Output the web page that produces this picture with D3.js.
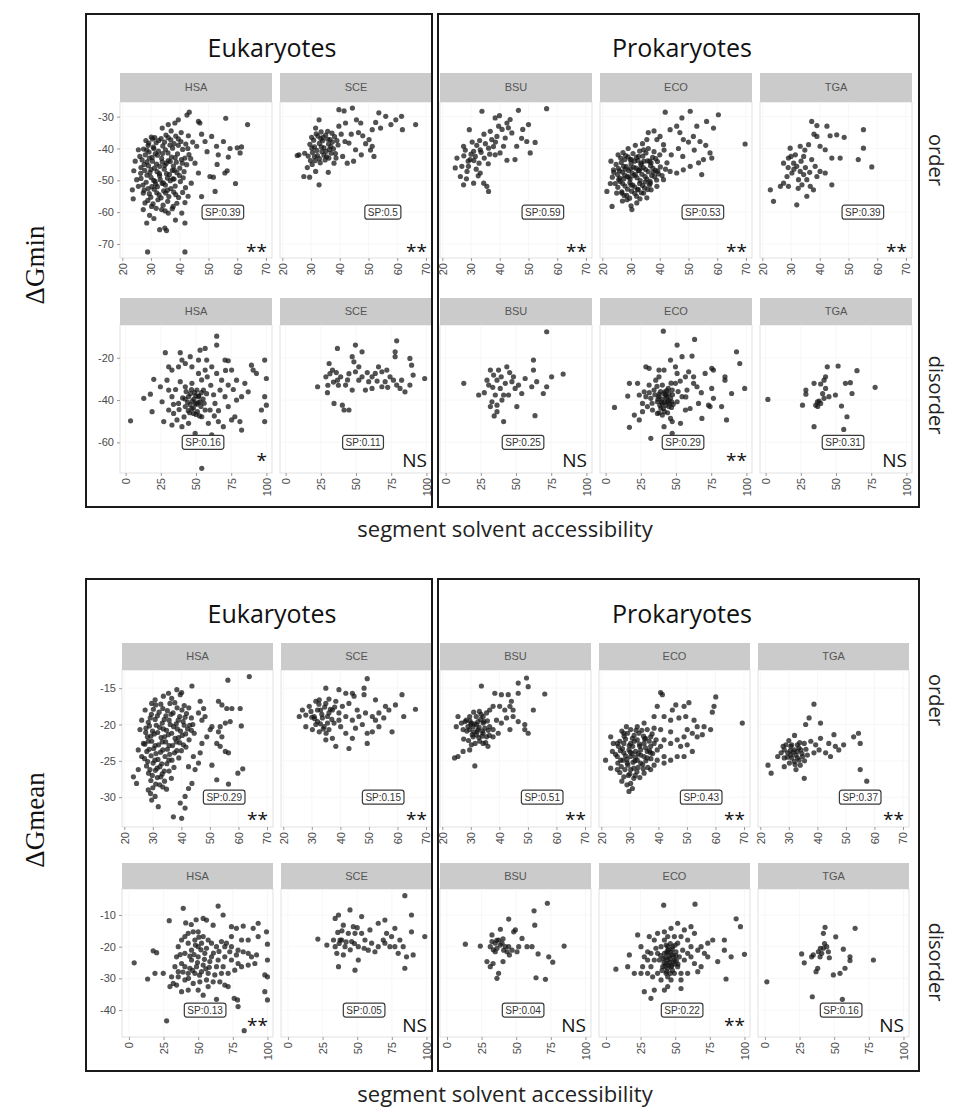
<!DOCTYPE html>
<html>
<head>
<meta charset="utf-8">
<script src="https://cdn.jsdelivr.net/npm/d3@7"></script>
<style>
  body { margin: 0; background: #fff; }
  svg { display: block; }
  .tick text { font-family: "Liberation Sans", Arial, sans-serif; font-size: 11px; fill: #4a4a4a; }
  .tick line { stroke: #9a9a9a; }
  .strip-lab { font-family: "Liberation Sans", Arial, sans-serif; font-size: 11px; fill: #555; }
  .sp-lab { font-family: "Liberation Sans", Arial, sans-serif; font-size: 10px; fill: #333; }
  .big { font-family: "Open Sans", sans-serif; fill: #111; }
  .serif { font-family: "Liberation Serif", "Times New Roman", serif; fill: #111; }
</style>
</head>
<body>
<div id="chart"></div>
<script>
var species = ["HSA", "SCE", "BSU", "ECO", "TGA"];

var xTicksOrder = [20, 30, 40, 50, 60, 70];
var xTicksDisorder = [0, 25, 50, 75, 100];
var yTicksMinOrder = [-70, -60, -50, -40, -30];
var yTicksMinDisorder = [-60, -40, -20];
var yTicksMeanOrder = [-30, -25, -20, -15];
var yTicksMeanDisorder = [-40, -30, -20, -10];

var spMinOrder = [0.39, 0.5, 0.59, 0.53, 0.39];
var spMinDisorder = [0.16, 0.11, 0.25, 0.29, 0.31];
var spMeanOrder = [0.29, 0.15, 0.51, 0.43, 0.37];
var spMeanDisorder = [0.13, 0.05, 0.04, 0.22, 0.16];

var sigMinOrder = ["**", "**", "**", "**", "**"];
var sigMinDisorder = ["*", "NS", "NS", "**", "NS"];
var sigMeanOrder = ["**", "**", "**", "**", "**"];
var sigMeanDisorder = ["**", "NS", "NS", "**", "NS"];

// ---- ΔGmin, order (x = segment solvent accessibility, y = ΔGmin)
var minOrderHSA = [[28.8,-72.5],[41.8,-72.5],[63.6,-32.5],[56,-30.5],[43.3,-28.6],[42.5,-29.5],[59.4,-51],[23.8,-55.8],[28.5,-63.4],[33,-65.5],[35.4,-65.8],[34.8,-65],[41.8,-63.4],[40.7,-60.3],[27.3,-59.2],[47.6,-55.1],[52.3,-53.5],[50.5,-48.8],[51.7,-49],[55.7,-47.7],[56.5,-47],[61,-41.4],[61.5,-39.5],[60,-39.8],[56.9,-42.7],[53.4,-42],[52.8,-39.3],[55.2,-37.8],[51.1,-36.2],[47.6,-35.5],[47,-32],[46.5,-31.5],[48.8,-37.8],[45.9,-39.3],[45.3,-44.6],[46.5,-47.7],[44,-50.9],[42.9,-55],[41.8,-57],[39.5,-31],[38.3,-32],[36,-32.5],[33.9,-33.6],[25.6,-40.4],[26.1,-42.5],[25,-49.8],[25.6,-51.9],[27.3,-54],[27.9,-57.1],[30.2,-58.2],[33.7,-59.2],[36,-60.3],[37.7,-58.2],[31,-62],[29.5,-61],[38.5,-62.5],[44.5,-38],[43,-36],[49.5,-41],[53,-45],[57.5,-40],[40.5,-35],[37,-34.5],[30.5,-37],[29,-39],[24.5,-44],[24,-47],[26.5,-46],[23.5,-53],
  [28.2,-37.5],[30.1,-36.4],[31.8,-38.2],[33.5,-36.9],[35.2,-35.8],[36.9,-37.3],[38.6,-36.1],[40.4,-37.8],[42.1,-38.6],[27.4,-40.2],[29.3,-41.1],[30.8,-39.6],[32.6,-40.8],[34.1,-39.2],[35.9,-41.4],[37.5,-39.9],[39.2,-41.7],[41,-40.3],[43.2,-41.9],[26.9,-43.6],[28.6,-44.2],[30.4,-42.8],[31.9,-44.9],[33.7,-43.1],[35.3,-44.6],[37.1,-42.7],[38.8,-44.3],[40.6,-43.5],[42.4,-45.1],[27.8,-46.9],[29.6,-47.6],[31.2,-46.2],[32.9,-47.9],[34.6,-46.5],[36.4,-48.2],[38.1,-46.8],[39.9,-48.5],[41.5,-47.3],[26.5,-49.4],[28.3,-50.6],[30,-49.1],[31.6,-51.2],[33.2,-49.8],[35,-51.5],[36.7,-50.1],[38.4,-51.8],[40.2,-50.4],[42,-52.3],[27.6,-53.1],[29.4,-54.2],[31.1,-52.8],[32.8,-54.6],[34.4,-53.3],[36.2,-55.1],[37.9,-53.7],[39.6,-55.4],[28.9,-56.3],[30.7,-57.4],[32.4,-56.1],[34.2,-57.8],[35.8,-56.6],[37.4,-58.9],[39,-57.2],[30.5,-44],[32.2,-42.1],[34.8,-45.3],[36,-43.8],[33,-48.6],[35.7,-49.3],[31.4,-50.3],[29.1,-45.4],[37.8,-45.5],[34,-41.6],[36.6,-38.9],[32,-53.9],[35.1,-54],[30.3,-52],[33.9,-51],[38,-49.6],[39.5,-39],[31,-40],
  [29.2,-38.3],[32.7,-37.5],[36,-36.6],[39.5,-37],[28,-42],[31.5,-41.6],[35,-40.4],[38.4,-42.9],[41.8,-43],[29.4,-43],[33,-45.6],[36.7,-44.1],[40,-46.2],[28.6,-48.4],[32.1,-47.3],[35.4,-47.9],[39,-47.6],[27.2,-51.5],[30.9,-50],[34.3,-50.8],[37.6,-49.5],[41.2,-49.2],[29.9,-55.3],[33.5,-55.5],[36.9,-52.6],[38.6,-54.5],[31.8,-58.8],[34.9,-59.6],[27.6,-45],[30,-46.6],[33.9,-44.2],[37.4,-46.9],[40.9,-44.6],[29,-52.6],[32.2,-52],[35.7,-53.1],[26.4,-47.8],[31.3,-36.6],[34.7,-38],[38,-38.5],[42.8,-40],[43.8,-43.2],[41,-53.8],[28.5,-40.5]];
var minOrderSCE = [[39.7,-27.8],[41.5,-28.2],[44.4,-27.3],[53.6,-28.8],[56,-29.9],[59.5,-31],[61.5,-29.9],[61.8,-34.1],[66.4,-32.5],[57.8,-32.5],[54.2,-33.6],[52.5,-31.8],[51.3,-34.1],[50.2,-37.2],[51.3,-39.3],[51.9,-42.5],[50.7,-40.5],[47.3,-32],[45.8,-31],[42,-32],[39.7,-33],[32.8,-31],[31.6,-33.6],[38,-44.6],[42.6,-44.6],[41,-42.5],[45.5,-40.4],[43.2,-38.3],[30.4,-45],[28.7,-46],[31.6,-47.2],[32.8,-51.4],[27.5,-48.8],[25.8,-42],[25.2,-42.2],[48,-36],[46.5,-35],[44,-35.5],[49,-38.5],[47.5,-42],[44.8,-44],[36,-47.5],[29.5,-49],
  [30.2,-36.5],[31.8,-35.4],[33.4,-36.9],[35.1,-35.8],[36.6,-37.2],[38.2,-36.3],[29.6,-38.7],[31.2,-39.5],[32.9,-38.4],[34.5,-39.8],[36.1,-38.6],[37.8,-40.1],[39.4,-38.9],[30.5,-41.3],[32.2,-42.2],[33.8,-41],[35.4,-42.6],[37,-41.5],[38.7,-43],[31.5,-43.8],[33.2,-44.5],[34.9,-43.6],[29,-42.4],[34,-37.6],[36.4,-40.3],[40.5,-35.5],[41.8,-37.8],[27.8,-41.5],
  [30.9,-37.4],[32.4,-36.1],[34.2,-36.5],[35.8,-37.1],[37.4,-38],[30.3,-39.9],[32,-40.6],[33.6,-39.5],[35.2,-40.9],[36.9,-39.4],[38.5,-41.6],[31.2,-42.6],[32.9,-43.2],[34.5,-42.1],[36.2,-43],[29.8,-43.8],[33.5,-34.8],[35.8,-34.6],[37.3,-35.2],[39,-37.5]];
var minOrderBSU = [[33.8,-28.3],[46.5,-28],[56.3,-27.5],[39.9,-29.7],[38.4,-30.4],[43.6,-30.9],[42.5,-32],[50,-32.5],[29.4,-34.1],[39.6,-33],[36.7,-34.6],[52.3,-38.1],[49.4,-37.8],[50.6,-41.4],[45.3,-43.5],[42.5,-43.7],[38.4,-42],[36.1,-39.9],[33.2,-40.4],[30.9,-40.9],[27.4,-39.3],[25.1,-43],[24.5,-46.1],[26.3,-48.8],[27.4,-51.4],[30.9,-50.9],[34.4,-50.9],[36.1,-53.5],[35.5,-51.9],[33.2,-47.7],[29.1,-45.6],[29.7,-43.5],[31.5,-42.5],[26.8,-45.6],[28.6,-47.2],[37.2,-37.2],[39,-36.2],[41.9,-36.7],[44.2,-35.1],[41.3,-39.3],[40.1,-41.4],[45.9,-39.3],
  [28,-40.5],[30,-41.8],[32,-39],[33.5,-41.2],[35,-38.5],[36.5,-41.8],[31,-43.8],[32.8,-44.6],[34.6,-43],[29,-44],[27.5,-42.3],[33,-37.5],[37.8,-39.4],[30.4,-38],[36,-44.8],[38.5,-38],[40.8,-34],[43,-33.5],[34.5,-35.5],[31.8,-46.5],[28.4,-49.5],[32.5,-48.6],[47.6,-36.8],[48,-34]];
var minOrderECO = [[60.4,-29.4],[69.7,-38.6],[50.6,-28.3],[41.9,-28.6],[58.7,-33.6],[56.3,-31.5],[52.9,-33],[47.7,-30.4],[45.9,-33],[43.6,-34.1],[40.1,-36.2],[39,-37.2],[41.3,-38.8],[48.2,-37.2],[51.7,-36.2],[54,-37.8],[57.5,-41.4],[58.1,-43],[55.2,-43.5],[54.6,-48.2],[50.6,-45.6],[48.2,-46.7],[45.9,-47.7],[43.6,-47.2],[41.3,-49.8],[39,-51.9],[36.7,-50.9],[34.4,-54],[32,-57.1],[30.3,-59.2],[23.4,-58.2],[21.6,-53.5],[23.9,-46.7],[25.7,-49.8],[28.6,-56.1],[26.8,-54],[35.5,-37.2],[34.4,-40.4],[32.6,-42.5],[29.7,-43.5],[46.5,-40],[48,-42.5],[52,-40.5],[50,-38],[44,-42],[42.5,-44.5],[47,-35],[53.5,-44.5],[38,-34.5],[36,-35],[56,-39],
  [25.5,-42],[27.2,-41.3],[29,-42.6],[30.7,-41.6],[32.4,-43.8],[34.1,-42.4],[35.8,-43.9],[37.5,-42.8],[39.2,-44.1],[24.8,-45],[26.6,-44.4],[28.3,-45.7],[30,-44.8],[31.7,-46.2],[33.4,-45.1],[35.1,-46.6],[36.8,-45.4],[38.5,-46.9],[40.2,-45.8],[25.3,-48.2],[27,-47.4],[28.7,-48.8],[30.4,-47.7],[32.1,-49.2],[33.8,-48.1],[35.5,-49.6],[37.2,-48.5],[38.9,-49.9],[24.5,-51],[26.2,-50.4],[27.9,-51.8],[29.6,-50.7],[31.3,-52.1],[33,-51],[34.7,-52.4],[36.4,-51.5],[26.8,-53.6],[28.5,-54.7],[30.2,-53.4],[31.9,-55],[33.6,-53.9],[29,-40],[31.5,-39],[33,-40.8],[27.8,-43.5],[29.8,-46.3],[31,-48.5],[32.8,-47],[34.5,-44],[27.5,-49.5],[30,-51.5],[28,-46.5],[26,-47],[35,-50.5],[32.5,-52.8],[36.5,-44],[37.8,-47.5],[31.2,-44],[29.3,-49],[33.2,-46.4],[34,-38.5],[36,-40],[38,-41],[40,-42],[41.5,-40.5],[42,-46.5],[39.5,-48],[37,-53],[35.5,-55.5],[27,-56.5],[25,-54],[23.5,-49],[23,-44],
  [26.4,-43],[28.1,-42.2],[30.1,-43.5],[31.9,-42.8],[33.6,-44.6],[35.2,-41.4],[37,-44.5],[38.6,-43.2],[25.6,-46.3],[27.4,-45.6],[29.2,-47],[30.9,-45.9],[32.5,-46.9],[34.3,-46],[36,-47.3],[37.6,-46.2],[39.3,-47.1],[26.1,-49.3],[27.8,-48.4],[29.7,-49.6],[31.5,-48.2],[33.2,-50.1],[34.9,-48.8],[36.6,-50.3],[38.2,-48.9],[25.4,-52.2],[27.1,-51],[28.8,-52.8],[30.6,-51.5],[32.3,-53],[34,-51.6],[35.8,-52.9],[27.6,-54.8],[29.5,-55.6],[31.3,-54.1],[33.1,-55.8],[30,-58],[24,-47.5],[22.8,-51],[40.8,-48.5]];
var minOrderTGA = [[37.2,-31.5],[39,-32.8],[43.6,-36],[45.9,-35.7],[55.2,-34.1],[55.2,-39.9],[53.4,-43.5],[58.1,-45.8],[47.1,-43],[44.2,-43],[41.9,-40.4],[40.1,-39.3],[39,-36.2],[36.1,-38.8],[33.2,-39.3],[29.7,-39.9],[27.4,-44.6],[29.1,-43],[30.9,-44.6],[32,-45.6],[33.2,-47.2],[34.4,-48.2],[35.5,-49.8],[36.7,-51.9],[37.8,-53],[35.5,-55],[32,-57.7],[29.1,-51.9],[27.4,-50.9],[26.3,-51.9],[22.8,-53],[23.9,-56.6],[44.2,-51.4],[39,-48.8],[38.4,-45.6],[37.2,-43.5],[41.9,-47.7],[40.1,-47.2],[34.4,-42.5],[31.5,-42],[30.3,-47.7],[28.6,-48.8],[33.8,-51.4],[32.6,-49.8],
  [31,-46.5],[33.5,-44],[35,-46],[30,-42.5],[34.8,-40.5],[29,-46],[36.5,-47.5],[32.5,-52.5],[42.5,-33],[38,-35.5],[48.5,-36.5]];

// ---- ΔGmin, disorder
var minDisHSA = [[64.7,-9.8],[52.9,-16.4],[28.2,-17.6],[38.8,-17.6],[56.5,-15.6],[64.7,-14],[70.6,-21.1],[72.9,-21.4],[89.4,-23.5],[90.6,-25.8],[92.9,-27.4],[98.8,-21.1],[100,-29.8],[98.8,-38.4],[100,-42.4],[98.8,-50.2],[96.5,-44.7],[3.5,-49.8],[12.9,-39.2],[17.6,-37.2],[20,-30.2],[18.8,-45.5],[27.1,-50.2],[32.9,-51.8],[34.1,-46.3],[54.1,-72.3],[49.4,-55.7],[61.2,-56.5],[82.4,-54.2],[81.2,-50.2],[77.6,-47.9],[82.4,-38.4],[87.1,-36.1],[84.7,-32.1],[78.8,-30.6],[75.3,-25.8],[68.2,-30.6],[67.1,-35.3],[63.5,-41.6],[60,-44.7],[58.8,-51],[54.1,-47.9],[48.2,-46.3],[42.4,-43.1],[37.6,-41.6],[32.9,-38.4],[30.6,-35.3],[29.4,-30.6],[32.9,-25.8],[37.6,-24.3],[42.4,-22.7],[47.1,-24.3],[51.8,-27.4],[56.5,-25.8],[55.3,-35.3],[51.8,-38.4],[49.4,-41.6],[44.7,-38.4],[42.4,-33.7],[38.8,-31.3],[47.1,-32.1],[50.6,-35.3],[52.9,-40.8],[56.5,-44.7],[44.7,-51],[40,-52.6],[36.5,-49.4],[30.6,-44.7],[70.6,-38.4],[72.9,-43.1],[75.3,-49.4],[65.9,-50.2],[69.4,-52.6],[78.8,-40],[72.9,-32.9],[61.2,-24.3],[64.7,-27.4],[57.6,-21.1],[51.8,-21.1],[45.9,-19.5],[40,-21.1],[30.6,-24.3],[24.7,-33.7],[25.9,-40.8],
  [46,-37],[48.5,-39.5],[50.5,-42],[52,-38],[47,-44],[44,-41],[49,-36.5],[53.5,-43],[45.5,-46],[51,-45.5],[43,-36],[55,-39.5],[57.5,-37],[40.5,-39],[38,-44.5],[35.5,-35],[60.5,-33],[62.5,-37.5],[58,-29],[54,-30.5],[66,-45],[41.5,-48],[34,-42],[63,-47.5],[71,-26],[76.5,-35],
  [47.5,-40.5],[49.8,-38],[51.5,-41.2],[45.8,-42.2],[48.2,-43.8],[50,-46.8],[46.8,-35],[53.8,-36.5],[44.5,-45],[52.5,-47.5],[55.8,-41.5],[42.2,-39.5]];
var minDisSCE = [[49.6,-14],[78.9,-12],[36.8,-15.6],[54.3,-17.2],[47.3,-19.5],[48.5,-21.9],[30.9,-22.7],[33.3,-25.8],[36.8,-30.6],[28.6,-29],[22.7,-33.7],[29.7,-36.5],[34.4,-41.6],[40.3,-42.4],[41.5,-44.7],[45,-44.7],[52,-30.6],[49.6,-26.6],[52,-24.3],[54.3,-29],[59,-31.3],[61.4,-29],[63.7,-27.4],[68.4,-26.6],[66,-24.3],[71.9,-25.8],[74.2,-29],[76.6,-30.6],[78.9,-32.9],[82.4,-30.6],[81.3,-34.5],[77.8,-17.2],[77.8,-19.5],[88.3,-20.3],[89.5,-23.5],[90.6,-28.2],[88.3,-32.9],[84.8,-36.1],[98.8,-29.8],[56.7,-35.3],[47.3,-35.3],[42.6,-32.9],[39.1,-29],[61.4,-34.5],[68.4,-33.7],[70.7,-31.3],
  [31.5,-27.5],[34,-31.5],[37.5,-33],[30,-33],[36,-27],[45,-27.5],[44,-30.5],[58,-27],[65,-31],[72.5,-34]];
var minDisBSU = [[71.8,-7.7],[12.9,-32.1],[23.5,-37.6],[30.6,-32.9],[31.8,-25.8],[37.6,-25.8],[43.5,-24.3],[48.2,-29],[42.4,-32.1],[36.5,-30.6],[38.8,-34.5],[41.2,-37.6],[44.7,-37.6],[51.8,-32.9],[56.5,-29.8],[61.2,-33.7],[62.4,-25.8],[62.4,-21.1],[64.7,-31.3],[71.8,-33.7],[69.4,-36.9],[75.3,-29],[83.5,-27.7],[50.6,-43.1],[36.5,-42.4],[31.8,-43.1],[36.5,-45.5],[41.2,-50.2],[63.5,-47.4],[32.9,-40.8],[35.3,-37.6],[29.4,-30.6],[34.1,-28.2],[49.4,-34.5],[54.1,-36.9],[47.1,-31.3],
  [33.5,-34],[39.5,-29],[45.5,-27],[27.5,-36.5],[40,-40],[34.5,-47.5]];
var minDisECO = [[41,-7.4],[63.2,-11.3],[50.8,-14],[54.3,-19.5],[61.4,-19.2],[46.1,-21.1],[93,-17.2],[95.3,-22.7],[98.8,-34.5],[89.5,-36.9],[84.8,-29],[84.8,-30.6],[76.6,-25.8],[75.4,-25],[70.7,-27.4],[75.4,-34.5],[76.6,-39.2],[73.1,-42.4],[66,-41.6],[64.9,-33.7],[74.2,-43.1],[82.4,-43.1],[85.9,-49.4],[68.4,-48.7],[56.7,-44.7],[53.2,-51],[47.3,-50.2],[46.1,-48.7],[41.5,-52.6],[32.1,-58.1],[47.3,-55.7],[16.9,-52.9],[6.3,-43.5],[15.7,-38.1],[16.9,-32.1],[22.7,-32.1],[28.6,-24.3],[30.9,-25],[37.9,-25.8],[41.5,-25.8],[49.6,-24.3],[50.8,-27.4],[56.7,-29],[59,-26.6],[62.5,-29],[62.5,-32.1],[57.8,-35.3],[54.3,-38.4],[50.8,-40.8],[45,-43.1],[40.3,-41.6],[37.9,-38.4],[34.4,-35.3],[30.9,-32.9],[27.4,-36.1],[23.9,-37.6],[26.2,-41.6],[29.7,-43.1],[33.3,-44.7],[36.8,-46.3],[40.3,-47.1],[43.8,-40.8],[47.3,-35.3],[49.6,-32.1],[40.3,-32.9],[37.9,-29],[35.6,-30.6],[42.6,-37.6],[46.1,-39.2],[42,-36.1],[36.8,-40.8],[32.1,-39.2],[28.6,-38.4],[26.2,-45.5],[20.4,-47.1],[23.9,-49.4],
  [43,-39],[45.5,-41.5],[41,-44],[39,-36],[44.5,-34.5],[47.5,-37.5],[38.5,-42.5],[35,-37.5],[42,-41],[48,-42],[44,-46],[40,-39.5],[36.5,-33.5],[33,-41.5],[46.5,-32],[51.5,-36],[53,-31],[38,-46],[31,-36.5],[57,-38.5],[60,-44],[68,-36.5],
  [41.5,-37],[43.5,-38.2],[45,-37],[39.8,-41],[42.8,-42.5],[44.8,-40.3],[46.8,-43.5],[37.2,-39.6],[39.2,-43.8],[41.8,-45.5],[47,-40.8],[43.5,-35.5],[38,-37.2]];
var minDisTGA = [[1.6,-39.7],[43.8,-24.3],[51.5,-23.9],[64.9,-26.1],[77.8,-34],[34.4,-32.1],[28.6,-35.3],[28.6,-37.2],[39.1,-32.4],[41.5,-30.6],[42.6,-34.5],[45,-38.4],[41.5,-39.2],[39.1,-41.6],[35.6,-42.4],[26.2,-42.4],[36.8,-40.8],[42.6,-29],[56.7,-32.1],[60.2,-31.8],[49.6,-37.6],[61.4,-36.9],[53.9,-42.8],[57.8,-47.9],[34.4,-52.6],[55.5,-53.9],[38,-40.5],[40.5,-37],[37,-43]];

// ---- ΔGmean, order
var meanOrderHSA = [[63.8,-13.4],[56.3,-13.9],[43.7,-14.7],[40.1,-15.6],[39.6,-15.9],[36.6,-16.4],[46.6,-16.8],[47.8,-17.8],[53,-16.8],[54.2,-17.3],[55.9,-17.8],[57.7,-17.8],[60.6,-17.8],[57.1,-19.6],[61,-20.2],[55.4,-19.8],[53.6,-20.3],[53,-21],[50.7,-20.3],[50.1,-20.7],[54.2,-21.7],[52.4,-22.6],[53.6,-23],[55.4,-23.7],[56.5,-23.9],[50.7,-25.6],[52.4,-27.6],[56.5,-28.2],[59.8,-26.7],[61.5,-26.1],[46,-25.3],[44.8,-26.2],[43.7,-28.1],[42.5,-28.8],[41.3,-29.9],[39.6,-30.8],[41.3,-31.5],[40.1,-32.9],[37.2,-32.7],[31.9,-31.3],[30.8,-29.9],[29.6,-30.4],[28.4,-29],[24.3,-28.1],[24.9,-26.2],[26.1,-24.4],[26.7,-22.6],[25.5,-20.7],[26.1,-19.4],[27.3,-18],[29.6,-17.1],[30.8,-16.6],[33.7,-16.1],[35.5,-15.7],[38.4,-15.2],[47.2,-19.4],[48.3,-18.9],[46,-18.4],[48.9,-21.7],[47.2,-22.6],[46.6,-23.9],[44.2,-24.4],[42.5,-25.8],[23.2,-27.2],[24.9,-23.5],
  [31,-17.3],[33.5,-17.8],[36,-17.1],[38.5,-17.7],[41,-17.4],[29.5,-18.6],[32.2,-18.3],[34.6,-18.8],[37.1,-18.4],[39.4,-18.9],[41.8,-18.5],[43.5,-19.1],[28.4,-19.7],[30.8,-19.3],[33.3,-19.8],[35.7,-19.4],[38.2,-19.9],[40.6,-19.6],[42.9,-20.1],[27.6,-20.5],[29.9,-20.9],[32.4,-20.4],[34.8,-20.8],[37.3,-20.3],[39.7,-20.9],[42.2,-20.6],[44.5,-21.2],[28.1,-21.7],[30.5,-21.3],[32.9,-21.8],[35.4,-21.4],[37.8,-21.9],[40.3,-21.5],[42.7,-22.1],[27.2,-22.7],[29.6,-22.3],[32,-22.8],[34.5,-22.4],[36.9,-22.9],[39.4,-22.5],[41.6,-23.1],[27.9,-23.7],[30.3,-23.3],[32.7,-23.8],[35.1,-23.4],[37.6,-23.9],[40,-23.6],[27.1,-24.7],[29.4,-24.3],[31.8,-24.8],[34.3,-24.4],[36.7,-24.9],[39.1,-24.6],[27.8,-25.7],[30.1,-25.3],[32.5,-25.8],[34.9,-25.4],[37.4,-25.9],[28.5,-26.7],[30.9,-26.3],[33.3,-26.8],[35.7,-26.4],[29.3,-27.7],[31.6,-27.3],[34.1,-27.8],[36.5,-27.4],[30,-28.7],[32.4,-28.3],[34.8,-28.9],
  [30.2,-17.9],[32.8,-17.2],[35.1,-18.1],[37.7,-17],[40.2,-18],[42.6,-17.7],[29.1,-19.1],[31.6,-18.8],[34,-19.3],[36.4,-18.6],[38.9,-19.4],[41.3,-19],[44,-20],[28.8,-20.2],[31.2,-20.1],[33.7,-20.6],[36.1,-20],[38.6,-20.6],[41,-20.1],[43.5,-20.8],[27.5,-21.1],[29.3,-21.6],[31.7,-21.1],[34.1,-21.7],[36.6,-21.2],[39,-21.8],[41.5,-21.3],[28.4,-22.3],[30.8,-22.9],[33.3,-22.4],[35.7,-22.9],[38.2,-22.4],[40.7,-22.8],[28.7,-23.4],[31.1,-24],[33.5,-23.5],[35.9,-24.1],[38.4,-23.6],[28.2,-25.1],[30.7,-24.9],[33.1,-25.4],[35.6,-24.9],[29,-26.2],[31.5,-26],[34,-26.4],[29.8,-27],[32.8,-27.2],[31,-28.2],[33.5,-28.6],[29.2,-29.5]];
var meanOrderSCE = [[49.4,-13.7],[34.9,-15],[39.5,-15.2],[41.9,-15.7],[44.2,-15.7],[44.8,-16.1],[48.3,-15],[48.3,-15.9],[52.3,-16.6],[55.8,-17.5],[61.6,-15.9],[66.3,-17.9],[59.3,-17.3],[57,-18],[62.2,-18.9],[58.1,-21],[53.5,-20.3],[51.2,-21],[49.4,-21.2],[49.4,-22.6],[44.2,-21.9],[43,-23.3],[38.4,-23],[37.2,-21.9],[34.9,-22.1],[32.6,-21],[30.2,-20.7],[27.9,-20.3],[25.6,-18.9],[26.7,-18],[29.1,-17.5],[31.4,-16.8],[32.6,-16.6],[34.9,-17.1],[37.2,-18],[39.5,-18.4],[41.9,-18.9],[44.2,-19.4],[46.5,-18.9],[48.8,-18.4],[51.2,-18.9],[53.5,-18.4],[40.7,-17.5],[38.4,-16.8],[36,-18.4],[33.7,-19.1],[32,-19.6],[30.8,-18.9],[33.1,-18],[35.5,-19.8],[37.8,-19.8],[40.1,-20.3],[41.9,-21.2],[45.3,-20.5],[47.7,-20],[52.3,-19.4],[55.2,-19.1],[29.7,-18.2],[27.9,-18.7],[31.4,-20],[34.3,-20.3],[36,-20.7],[39.5,-19.4],[45.9,-18],[43,-17.1],
  [32,-18],[33.5,-18.6],[34.5,-17.6],[31,-19.2],[33,-19.9],[35.5,-18.9],[36.5,-17.9],[32.5,-17.2],[34,-20.6],[30,-19],[35,-21.2],[37,-19.3],[36,-16.5],[38,-17.6]];
var meanOrderBSU = [[49.5,-13.6],[50.1,-14.8],[46.6,-14.3],[55.9,-15.8],[33.7,-14.7],[38.4,-15.7],[40.7,-15.9],[43.1,-15.9],[46.6,-15.7],[44.2,-16.8],[43.7,-17.5],[44.8,-18],[41.9,-18],[40.1,-17.5],[37.8,-17.5],[36.6,-18],[35.5,-18.4],[34.3,-18.9],[31.9,-18.9],[29.6,-18.9],[28.4,-19.4],[26.7,-19.8],[25.5,-18.9],[24.9,-20.3],[27.3,-20.7],[29.6,-20.7],[30.8,-20.3],[32.5,-20.7],[34.3,-21.2],[35.5,-21.7],[37.8,-20.7],[39,-19.4],[40.7,-19.8],[42.5,-19.1],[44.8,-18.9],[46.6,-19.6],[48.9,-20],[48.9,-20.7],[50.1,-21.2],[51.9,-18],[43.7,-20.7],[30.8,-21.7],[33.1,-22.3],[34.3,-22.6],[30.2,-22.8],[29.6,-23.5],[27.3,-23.7],[25.5,-24.4],[24.3,-24.6],[31.4,-25.7],[36,-23],[37.8,-21.7],[39.6,-21.2],[36.6,-20.3],[34.3,-19.8],[32.5,-19.6],[30.2,-19.8],[29,-20.3],[31.9,-21.4],[34.9,-20.5],
  [32,-20],[33.5,-19.3],[31,-21],[34,-20.9],[32.8,-21.8],[30,-20],[35.8,-19.5],[36.5,-21.5],[33,-18.2],
  [28,-19.6],[29.7,-19.5],[31.3,-19.9],[32.9,-20.4],[34.6,-19.6],[36.1,-20.8],[28.6,-20.9],[30.5,-21.4],[32.2,-21],[33.9,-21.6],[35.2,-22.5],[27.5,-22],[29.2,-22.2],[31.5,-22.6],[33.6,-18.6],[31,-18.3]];
var meanOrderECO = [[40.8,-15.6],[41.4,-15.9],[60.1,-16.2],[59.5,-17.5],[58.9,-18.3],[69.4,-19.8],[50.7,-17],[49,-17.5],[46.1,-17.3],[44.9,-18],[39.6,-17.5],[38.5,-18.9],[42,-18.9],[44.3,-19.4],[47.2,-19.1],[49.6,-18.9],[52.5,-19.4],[53.6,-20.3],[56,-20.3],[58.3,-20.7],[55.4,-21.4],[53.6,-21.7],[51.9,-21.2],[50.1,-20.7],[49,-21.7],[46.6,-22.1],[44.3,-22.6],[42,-22.1],[40.8,-20.7],[44.3,-21],[47.8,-23],[50.1,-22.8],[51.9,-23.7],[49,-24.4],[46.6,-24.4],[44.3,-24.9],[42,-24.4],[39.6,-24.9],[37.3,-26.2],[35,-26.7],[31.4,-27.4],[29.7,-29.2],[30.3,-28.1],[27.9,-27.2],[25.6,-26.2],[23.3,-26],[21.5,-24.9],[23.9,-23.7],[25.6,-22.6],[23.3,-21.7],[27.9,-21.2],[30.3,-20.7],[32.6,-20.3],[35,-19.8],[36.1,-20.7],[37.3,-21.7],[38.5,-22.6],[39.6,-23.5],[37.3,-23.9],[35,-24.4],[32.6,-24.9],[30.3,-24.4],[27.9,-23.9],[26.8,-24.9],[29.1,-25.3],[31.4,-26],[33.8,-25.3],[36.1,-24.6],[30.3,-22.6],[32.6,-22.1],[35,-22.6],[37.3,-23],[27.9,-22.6],[25.6,-24.4],[30.3,-26.2],[33.8,-23.5],[32,-23.7],[36.1,-23.7],[30.9,-21.9],[33.2,-21.2],[35.5,-21.9],[38.5,-20.5],[40.8,-23],[42,-25.3],[27.4,-23.3],[29.7,-23.5],
  [28.5,-22],[31,-23],[33,-24],[29,-24.8],[31.8,-25],[34.5,-25.5],[27,-25.8],[29.5,-27],[32.5,-26.5],[26,-23],[34.2,-20.8],[36.8,-22.3],[38,-24],[31.5,-21.5],[28.8,-20.3],[33.5,-23],[30.8,-24],[35.5,-23.2],
  [26.5,-22.3],[28,-21.6],[29.8,-22.9],[31.6,-22.3],[33.4,-22.7],[35.2,-22],[36.9,-23.6],[25,-24.1],[26.7,-23.6],[28.5,-24.3],[30.2,-23.8],[32,-24.5],[33.8,-24.2],[35.6,-25],[37.4,-24.7],[25.8,-25.3],[27.6,-24.9],[29.3,-25.6],[31.1,-25.2],[32.9,-25.9],[34.7,-26.1],[26.5,-26.6],[28.3,-26.2],[30,-26.8],[31.9,-27],[33.5,-27.3],[27.2,-27.8],[29,-28.3],[30.9,-28.8],[24.2,-22.6],[27.2,-20.9],[29.2,-21.2],[32.2,-20.8],[34.8,-21.6],[37.8,-21.3],[39.2,-22.1],[36.3,-25.9],[38.5,-25.6]];
var meanOrderTGA = [[38.8,-17.2],[37.1,-19.1],[35.9,-20],[41.1,-19.8],[45.8,-21.4],[49.2,-22.8],[52.7,-21.7],[54.4,-21.2],[55,-22.6],[55,-26.2],[57.3,-27.8],[44,-22.6],[41.1,-21.9],[39.4,-22.8],[37.7,-22.3],[35.4,-22.6],[33,-22.8],[30.7,-23],[28.4,-23.5],[27.3,-23.9],[26.1,-24.4],[28.4,-24.6],[30.2,-25.3],[31.9,-25.1],[33.6,-24.9],[34.8,-24.4],[36.5,-24.2],[38.8,-23.9],[40.6,-23.5],[32.5,-26.2],[35.4,-27.4],[23.8,-26.7],[22.7,-25.6],[28.4,-25.8],[30.7,-24.2],[33,-23.7],[34.2,-23.5],[31.9,-23.5],[29.6,-23.9],[42.9,-23.9],[44.6,-24.4],[46.3,-23],[47.5,-23.5],
  [32.5,-24.2],[31,-24.6],[34,-25.6],[33.5,-23.2],[30,-22.2],[36,-23.4],[29,-22.8],[32,-21.5],
  [31.5,-23.8],[33,-24.6],[30.5,-23.6],[32.2,-25.5],[34.6,-24],[29.5,-24.5],[35.5,-25],[28,-23],[31,-22.8],[33.8,-22.5]];

// ---- ΔGmean, disorder
var meanDisHSA = [[3.8,-25.1],[13.5,-30.2],[17.5,-21.3],[20,-21.9],[18.8,-28.4],[24.8,-28.4],[27.2,-43.4],[29.1,-11.8],[39.2,-7.9],[64.4,-7.2],[68,-10],[53.6,-11.1],[56,-11.6],[60.8,-13.2],[74,-13.7],[77.6,-14.2],[82.5,-13.5],[89.7,-14.2],[93.3,-12.6],[99.3,-15.3],[100,-19.2],[93.3,-16.8],[92.1,-22.6],[100,-24.2],[98.1,-28.9],[100,-29.5],[98.1,-34.2],[100,-36.8],[83.2,-46.5],[78.8,-38.9],[78.4,-36.8],[76,-36.3],[71.6,-32.6],[69.2,-32.1],[63.2,-36.6],[57.2,-32.6],[53.6,-35.3],[50,-33.7],[42.8,-33.7],[38,-34.2],[34.4,-32.1],[32,-31.6],[29.6,-32.6],[30.8,-29.5],[33.2,-26.3],[34.4,-23.2],[35.6,-20],[38,-17.9],[40.4,-16.8],[42.8,-15.8],[46.4,-15.3],[50,-15.3],[53.6,-16.8],[57.2,-17.9],[59.6,-18.9],[63.2,-20],[66.8,-18.4],[70.4,-18.9],[74,-20],[78.8,-21.1],[82.5,-21.6],[86.1,-22.1],[88.5,-23.2],[90.9,-25.3],[86.1,-25.8],[81.3,-26.3],[76.4,-27.4],[71.6,-28.4],[66.8,-28.4],[62,-28.9],[57.2,-28.4],[52.4,-27.9],[47.6,-28.4],[42.8,-28.4],[40.4,-26.3],[45.2,-24.2],[50,-23.2],[54.8,-22.1],[59.6,-23.2],[64.4,-24.2],[69.2,-23.2],[74,-24.2],[78.8,-25.3],[45.2,-21.1],[50,-20],[40.4,-22.1],[38,-25.3],[42.8,-18.9],[47.6,-17.9],[52.4,-18.9],[56,-20.5],[58.4,-24.7],[53.6,-25.8],[48.8,-26.3],[44,-26.8],[35.6,-27.9],[63.2,-26.3],[68,-26.3],[72.8,-21.6],[77.6,-22.6],[51.2,-31.1],[46.4,-31.6],[56,-30.5],[60.8,-31.1],[65.6,-31.1],[40.4,-30.5],[35.6,-29.5],[69.2,-20],[74,-16.8],[81.3,-17.9],[86.1,-17.9],
  [47,-22.5],[49.5,-25],[52,-21],[54.5,-24],[46,-27.5],[51,-29],[55.5,-27],[44,-23],[48,-19.5],[43,-30],[58,-26.5],[61,-22],[39,-28],[37,-22.5],[65,-21.5],[50.5,-17],[45,-13],[41,-12.5],[48.5,-11.5]];
var meanDisSCE = [[84.4,-3.9],[21.6,-17.6],[28.1,-19.5],[34.1,-11.1],[36.5,-10],[40,-13.2],[44.8,-8.4],[53.2,-10.5],[47.2,-13.7],[43.6,-15.8],[38.8,-17.9],[34.1,-20],[35.3,-22.1],[40,-22.6],[36.5,-26.3],[48.4,-27.4],[50.8,-24.2],[50.8,-20],[55.6,-17.9],[59.2,-14.7],[65.2,-12.6],[70,-11.6],[71.2,-15.8],[74.8,-16.8],[77.2,-14.2],[77.2,-20],[79.6,-22.1],[84.4,-26.8],[85.6,-23.2],[90.4,-22.6],[89.2,-15.3],[89.2,-10],[98.8,-16.8],[60.4,-18.9],[65.2,-20],[70,-18.9],[62.8,-21.6],[58,-21.1],[46,-18.4],[41.2,-20],[37.6,-17.9],[32.9,-17.9],[48.4,-15.8],[53.2,-15.8],[68.8,-17.9],[73.6,-20],[80.8,-17.9],[83.2,-20],
  [37,-19],[39,-15],[42,-18.5],[45,-21],[48,-19],[50,-14],[55,-20.5],[36,-15.5]];
var meanDisBSU = [[13.3,-19.2],[24.1,-19.8],[32.5,-16.3],[38.6,-14.5],[44.6,-11.3],[48.2,-15.3],[49.4,-14.7],[32.5,-18.4],[34.9,-18.9],[37.3,-17.9],[39.8,-18.9],[42.2,-20],[44.6,-20],[47,-21.1],[50.6,-21.6],[51.8,-20],[54.2,-17.4],[57.8,-20],[61.4,-20],[63.4,-13.2],[62.9,-8.7],[72.5,-6.3],[65.8,-22.3],[73.5,-23.2],[76.4,-24.9],[84.6,-19.8],[28.9,-24.7],[33.3,-25.3],[31.3,-26.3],[37.3,-28.4],[36.1,-30],[40.5,-24.7],[45.1,-22.6],[64.3,-29.8],[71.1,-30.3],[43.4,-21.6],[41,-21.1],[36.1,-20.5],[31.3,-20],[34.9,-21.6],
  [38.5,-19.5],[36,-18],[40.5,-17.5],[33.5,-21]];
var meanDisECO = [[41.7,-6.9],[64.3,-6.6],[94,-11.2],[97.1,-13.7],[100,-22.4],[86.7,-30.2],[85.5,-17.9],[85.5,-21.1],[90.4,-23.2],[80.7,-24.7],[77.1,-17.9],[73.5,-18.9],[73.5,-23.2],[68.7,-26.3],[66.3,-27.9],[61.4,-23.2],[61.4,-20],[63.9,-15.8],[61.4,-13.7],[56.6,-14.7],[51.8,-12.6],[47,-14.2],[44.6,-16.8],[37.3,-15.8],[34.9,-17.9],[31.3,-16.8],[22.9,-16.3],[16.9,-22.6],[15.7,-26.3],[7.2,-27.1],[20.5,-28.4],[25.3,-28.4],[26.5,-26.3],[30.1,-24.2],[32.5,-22.1],[36.1,-20.5],[39.8,-20],[42.2,-22.1],[44.6,-24.2],[47,-26.3],[49.4,-28.4],[47,-30.5],[44.6,-32.6],[54.2,-33.2],[34.9,-33.7],[32.5,-36.3],[27.7,-34.2],[42.2,-33.7],[54.2,-30.5],[59,-28.4],[63.9,-25.3],[59,-22.1],[55.4,-21.1],[51.8,-18.9],[48.2,-20],[44.6,-20],[42.2,-17.9],[37.3,-22.1],[34.9,-24.2],[32.5,-26.3],[30.1,-28.4],[37.3,-28.4],[41,-26.3],[43.4,-28.4],[49.4,-24.2],[53,-23.2],[56.6,-24.2],[51.8,-26.3],[54.2,-28.4],[38.6,-24.2],[33.7,-29.5],[44.6,-29.5],[50.6,-21.6],[47,-21.6],[43.4,-25.3],[39.8,-30.5],[30.1,-21.6],[25.3,-20],[27.7,-23.2],[59,-17.9],[66.3,-21.1],[68.7,-20],[71.1,-22.1],[42.2,-15.3],[49.4,-16.8],[54.2,-16.8],
  [45.5,-23],[47.5,-22.5],[43,-23.5],[46,-25],[48.5,-24.8],[44.5,-26.8],[50.5,-22.8],[42,-25],[39.5,-22.8],[48,-27.5],[45,-21],[52,-25.5],[40.5,-27.5],[46.5,-19],[50,-19.5],[43.5,-19.5],
  [44,-22],[46.2,-23.8],[48.8,-23],[45.2,-25.8],[42.8,-26.2],[47.5,-26],[49.8,-25.5],[44.2,-21.5],[41.5,-23.8],[47.8,-20.8],[50.8,-24.4],[43.8,-27.8],[46.5,-28.4]];
var meanDisTGA = [[1.4,-31.1],[43.4,-13.9],[42.2,-15.8],[51.1,-16.9],[65.1,-14.2],[26.5,-22.3],[28.4,-25.1],[34.9,-22.6],[38.6,-21.6],[41,-22.1],[42.2,-20.5],[44.6,-20],[45.8,-21.6],[56.6,-20.8],[61.4,-23.2],[61.4,-24.4],[57.8,-26.8],[54.2,-28.4],[49.4,-28.9],[38.1,-26.8],[36.9,-27.9],[78.3,-24.2],[34.2,-35.8],[55.9,-36.6],[33.7,-23.2],[39.8,-23.2],[43,-19],[40,-20.5],[46.5,-23.5]];

// ---------------------------------------------------------------
var svg = d3.select("#chart").append("svg")
  .attr("width", 957)
  .attr("height", 1115);

var figures = [
  { top: 14, bottom: 507, titleY: 57, x0: 120, step: 160, pw: 152,
    leftLabel: "\u0394Gmin", leftY: 265, axisTitleY: 537,
    rows: [
      { strip: 73, y0: 102, y1: 258, xDomain: [19.2, 72.1], xTicks: xTicksOrder,
        yDomain: [-74.4, -25.4], yTicks: yTicksMinOrder,
        data: [minOrderHSA, minOrderSCE, minOrderBSU, minOrderECO, minOrderTGA],
        sp: spMinOrder, spAt: [55, -60], sig: sigMinOrder, sigDy: 0, facet: "order", facetY: 160 },
      { strip: 298, y0: 325, y1: 473, xDomain: [-4, 104], xTicks: xTicksDisorder,
        yDomain: [-74.5, -4.5], yTicks: yTicksMinDisorder,
        data: [minDisHSA, minDisSCE, minDisBSU, minDisECO, minDisTGA],
        sp: spMinDisorder, spAt: [55, -60], sig: sigMinDisorder, sigDy: -6, facet: "disorder", facetY: 395 }
    ] },
  { top: 579, bottom: 1071, titleY: 623, x0: 122, step: 159, pw: 151,
    leftLabel: "\u0394Gmean", leftY: 820, axisTitleY: 1102,
    rows: [
      { strip: 643, y0: 670, y1: 827, xDomain: [19.2, 72.1], xTicks: xTicksOrder,
        yDomain: [-34.1, -12.5], yTicks: yTicksMeanOrder,
        data: [meanOrderHSA, meanOrderSCE, meanOrderBSU, meanOrderECO, meanOrderTGA],
        sp: spMeanOrder, spAt: [55, -30], sig: sigMeanOrder, sigDy: -1.5, facet: "order", facetY: 700 },
      { strip: 863, y0: 889, y1: 1037, xDomain: [-5, 104], xTicks: xTicksDisorder,
        yDomain: [-48.5, -1.8], yTicks: yTicksMeanDisorder,
        data: [meanDisHSA, meanDisSCE, meanDisBSU, meanDisECO, meanDisTGA],
        sp: spMeanDisorder, spAt: [55, -40], sig: sigMeanDisorder, sigDy: -5, facet: "disorder", facetY: 962 }
    ] }
];

figures.forEach(function(fig) {

  fig.rows.forEach(function(row) {
    var y = d3.scaleLinear().domain(row.yDomain).range([row.y1, row.y0]);

    species.forEach(function(name, i) {
      var left = fig.x0 + i * fig.step;
      var x = d3.scaleLinear().domain(row.xDomain).range([left, left + fig.pw]);
      var g = svg.append("g").attr("class", "panel");

      g.append("rect")
        .attr("x", left).attr("y", row.y0)
        .attr("width", fig.pw).attr("height", row.y1 - row.y0)
        .attr("fill", "#fff")
        .attr("stroke", "#dadada")
        .attr("stroke-width", 0.8);

      // faint grid
      g.selectAll(".gx").data(row.xTicks).enter().append("line")
        .attr("x1", function(d) { return x(d); }).attr("x2", function(d) { return x(d); })
        .attr("y1", row.y0).attr("y2", row.y1)
        .attr("stroke", "#f1f1f1").attr("stroke-width", 0.6);
      g.selectAll(".gy").data(row.yTicks).enter().append("line")
        .attr("x1", left).attr("x2", left + fig.pw)
        .attr("y1", function(d) { return y(d); }).attr("y2", function(d) { return y(d); })
        .attr("stroke", "#f1f1f1").attr("stroke-width", 0.6);

      // strip
      g.append("rect")
        .attr("x", left).attr("y", row.strip)
        .attr("width", fig.pw).attr("height", row.y0 - row.strip)
        .attr("fill", "#cbcbcb");
      g.append("text")
        .attr("class", "strip-lab")
        .attr("x", left + fig.pw / 2)
        .attr("y", (row.strip + row.y0) / 2)
        .attr("dy", "0.35em")
        .attr("text-anchor", "middle")
        .text(name);

      // points
      g.selectAll("circle").data(row.data[i]).enter().append("circle")
        .attr("cx", function(d) { return x(d[0]); })
        .attr("cy", function(d) { return y(d[1]); })
        .attr("r", 2.6)
        .attr("fill", "#161616")
        .attr("fill-opacity", 0.74);

      // SP label
      var lab = g.append("g")
        .attr("transform", "translate(" + x(row.spAt[0]) + "," + y(row.spAt[1]) + ")");
      var t = lab.append("text")
        .attr("class", "sp-lab")
        .attr("text-anchor", "middle")
        .attr("dy", "0.35em")
        .text("SP:" + row.sp[i]);
      var w = t.node().getComputedTextLength();
      lab.insert("rect", "text")
        .attr("x", -w / 2 - 3).attr("y", -7)
        .attr("width", w + 6).attr("height", 14)
        .attr("rx", 2.5)
        .attr("fill", "#fff")
        .attr("stroke", "#3a3a3a")
        .attr("stroke-width", 1.2);

      // significance
      g.append("text")
        .attr("class", "big")
        .attr("x", left + fig.pw - 5)
        .attr("y", row.y1 + row.sigDy)
        .attr("text-anchor", "end")
        .style("font-size", "19px")
        .text(row.sig[i]);

      // x axis
      var xAxis = d3.axisBottom(x)
        .tickValues(row.xTicks)
        .tickSize(3)
        .tickFormat(function(d) { return String(d); });
      var xg = g.append("g")
        .attr("transform", "translate(0," + row.y1 + ")")
        .call(xAxis);
      xg.select(".domain").remove();
      xg.selectAll("text")
        .attr("transform", "rotate(-90)")
        .attr("text-anchor", "end")
        .attr("x", -5)
        .attr("y", 0)
        .attr("dy", "0.35em");

      // y axis, only on the first column
      if (i === 0) {
        var yAxis = d3.axisLeft(y)
          .tickValues(row.yTicks)
          .tickSize(3)
          .tickPadding(3)
          .tickFormat(function(d) { return String(d); });
        var yg = g.append("g")
          .attr("transform", "translate(" + left + ",0)")
          .call(yAxis);
        yg.select(".domain").remove();
      }
    });

    svg.append("text")
      .attr("class", "big")
      .attr("transform", "translate(929," + row.facetY + ") rotate(90)")
      .attr("text-anchor", "middle")
      .style("font-size", "20px")
      .style("fill", "#222")
      .text(row.facet);
  });

  // group boxes
  svg.append("rect")
    .attr("x", 86).attr("y", fig.top)
    .attr("width", 432 - 86).attr("height", fig.bottom - fig.top)
    .attr("fill", "none").attr("stroke", "#1a1a1a").attr("stroke-width", 2);
  svg.append("rect")
    .attr("x", 438).attr("y", fig.top)
    .attr("width", 919 - 438).attr("height", fig.bottom - fig.top)
    .attr("fill", "none").attr("stroke", "#1a1a1a").attr("stroke-width", 2);

  svg.append("text").attr("class", "big")
    .attr("x", 272).attr("y", fig.titleY)
    .attr("text-anchor", "middle")
    .style("font-size", "25px")
    .text("Eukaryotes");
  svg.append("text").attr("class", "big")
    .attr("x", 682).attr("y", fig.titleY)
    .attr("text-anchor", "middle")
    .style("font-size", "25px")
    .text("Prokaryotes");

  svg.append("text").attr("class", "serif")
    .attr("transform", "translate(44," + fig.leftY + ") rotate(-90)")
    .attr("text-anchor", "middle")
    .style("font-size", "27px")
    .text(fig.leftLabel);

  svg.append("text").attr("class", "big")
    .attr("x", 505).attr("y", fig.axisTitleY)
    .attr("text-anchor", "middle")
    .style("font-size", "22px")
    .style("fill", "#222")
    .text("segment solvent accessibility");
});
</script>
</body>
</html>
